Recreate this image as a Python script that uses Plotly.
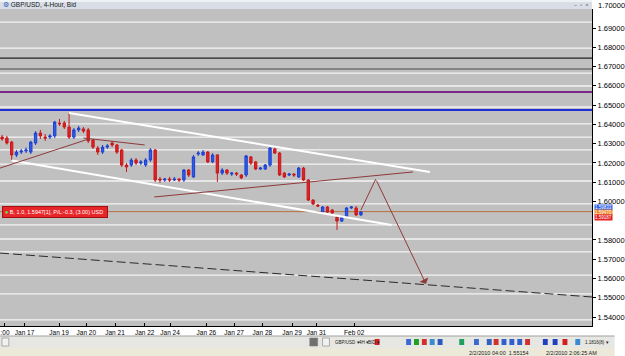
import plotly.graph_objects as go

# ---------------- data ----------------
bar_idx = list(range(-1, 75))
opens = [1.6334, 1.6329, 1.6308, 1.6241, 1.6256, 1.6262, 1.6256, 1.6303, 1.6355, 1.6334, 1.6334,
         1.6340, 1.6407, 1.6407, 1.6386, 1.6334, 1.6371, 1.6376, 1.6371, 1.6319, 1.6277,
         1.6256, 1.6282, 1.6303, 1.6293, 1.6267, 1.6189, 1.6189, 1.6215, 1.6199, 1.6189,
         1.6215, 1.6267, 1.6116, 1.6111, 1.6116, 1.6111, 1.6116, 1.6111, 1.6163, 1.6127,
         1.6246, 1.6241, 1.6256, 1.6205, 1.6241, 1.6147, 1.6163, 1.6142, 1.6147, 1.6137,
         1.6137, 1.6231, 1.6205, 1.6168, 1.6168, 1.6189, 1.6272, 1.6251, 1.6147, 1.6137,
         1.6142, 1.6127, 1.6173, 1.6111, 1.6007, 1.5981, 1.5945, 1.5971, 1.5955, 1.5919,
         1.5898, 1.5919, 1.5966, 1.5966, 1.5930]
closes = [1.6324, 1.6303, 1.6241, 1.6256, 1.6262, 1.6267, 1.6308, 1.6355, 1.6340, 1.6329, 1.6340,
          1.6412, 1.6402, 1.6386, 1.6334, 1.6371, 1.6381, 1.6365, 1.6314, 1.6282, 1.6256,
          1.6282, 1.6288, 1.6293, 1.6256, 1.6189, 1.6179, 1.6215, 1.6199, 1.6205, 1.6215,
          1.6267, 1.6111, 1.6111, 1.6116, 1.6111, 1.6116, 1.6111, 1.6163, 1.6137, 1.6231,
          1.6251, 1.6256, 1.6205, 1.6241, 1.6147, 1.6163, 1.6147, 1.6147, 1.6142, 1.6122,
          1.6236, 1.6199, 1.6168, 1.6173, 1.6189, 1.6277, 1.6251, 1.6137, 1.6127, 1.6142,
          1.6137, 1.6173, 1.6111, 1.6007, 1.5987, 1.5976, 1.5971, 1.5945, 1.5940, 1.5898,
          1.5919, 1.5966, 1.5971, 1.5930, 1.5945]
highs = [1.6345, 1.6340, 1.6314, 1.6267, 1.6272, 1.6280, 1.6314, 1.6365, 1.6371, 1.6350, 1.6350,
         1.6418, 1.6428, 1.6418, 1.6459, 1.6381, 1.6392, 1.6386, 1.6381, 1.6324, 1.6288,
         1.6293, 1.6298, 1.6314, 1.6298, 1.6272, 1.6199, 1.6225, 1.6225, 1.6215, 1.6225,
         1.6277, 1.6272, 1.6127, 1.6122, 1.6127, 1.6127, 1.6122, 1.6168, 1.6168, 1.6241,
         1.6262, 1.6267, 1.6262, 1.6251, 1.6246, 1.6173, 1.6168, 1.6153, 1.6153, 1.6142,
         1.6241, 1.6236, 1.6210, 1.6179, 1.6194, 1.6282, 1.6288, 1.6256, 1.6153, 1.6147,
         1.6147, 1.6179, 1.6179, 1.6116, 1.6012, 1.5987, 1.5976, 1.5976, 1.5961, 1.5925,
         1.5925, 1.5971, 1.5976, 1.5976, 1.5950]
lows = [1.6315, 1.6295, 1.6215, 1.6230, 1.6246, 1.6251, 1.6246, 1.6293, 1.6324, 1.6314, 1.6324,
        1.6329, 1.6392, 1.6376, 1.6324, 1.6324, 1.6360, 1.6355, 1.6303, 1.6272, 1.6241,
        1.6246, 1.6272, 1.6282, 1.6246, 1.6179, 1.6153, 1.6179, 1.6189, 1.6189, 1.6179,
        1.6205, 1.6101, 1.6096, 1.6101, 1.6101, 1.6106, 1.6101, 1.6101, 1.6127, 1.6122,
        1.6236, 1.6236, 1.6199, 1.6199, 1.6101, 1.6137, 1.6137, 1.6132, 1.6132, 1.6116,
        1.6127, 1.6189, 1.6163, 1.6163, 1.6163, 1.6179, 1.6246, 1.6132, 1.6122, 1.6132,
        1.6127, 1.6122, 1.6106, 1.6002, 1.5981, 1.5971, 1.5940, 1.5940, 1.5930, 1.5852,
        1.5893, 1.5914, 1.5961, 1.5925, 1.5925]

# x-axis date labels (bar index where each label sits)
date_tick_idx = [-0.4, 3.7, 10.9, 16.6, 22.6, 28.8, 34.1, 41.7, 47.5, 53.4, 59.6, 64.7, 72.6]
date_tick_text = [":00", "Jan 17", "Jan 19", "Jan 20", "Jan 21", "Jan 22", "Jan 24",
                  "Jan 26", "Jan 27", "Jan 28", "Jan 29", "Jan 31", "Feb 02"]

# price axis labels (1.59 is hidden behind the price boxes)
price_ticks = [1.54, 1.55, 1.56, 1.57, 1.58, 1.60, 1.61, 1.62, 1.63, 1.64,
               1.65, 1.66, 1.67, 1.68, 1.69]
top_price_label = "1.70000"

# horizontal levels drawn on the chart
white_levels = [1.6931, 1.6796, 1.6666, 1.6599, 1.6490, 1.6402, 1.6334, 1.6267, 1.6194,
                1.6106, 1.5987, 1.5878, 1.5805, 1.5738, 1.5618, 1.5520, 1.5385]
black_level = 1.6744
gray_level = 1.6687
purple_level = 1.6568
blue_level = 1.6474
order_price = 1.5947

# price-axis highlight boxes (label, price position)
ask_label, ask_pos = "1.59833", 1.5971
order_label, order_pos = "1.59470", 1.5943
bid_label, bid_pos = "1.59187", 1.5915

# trend lines (bar index, price)
upper_channel_x = [13, 88.4]
upper_channel_y = [1.6459, 1.6153]
lower_channel_x = [1, 80.4]
lower_channel_y = [1.6212, 1.5878]
brown_long_x = [30.8, 84.9]
brown_long_y = [1.6023, 1.6153]
brown_left_x = [-1.44, 17.1]
brown_left_y = [1.6173, 1.6324]
brown_short_x = [16.0, 28.8]
brown_short_y = [1.6329, 1.6293]
zig_x = [74, 77.1]
zig_y = [1.5955, 1.6116]
arrow_end = (87.6, 1.5572)
dash_x = [-1.44, 122.3]
dash_y = [1.5732, 1.5504]

# ---------------- figure ----------------
W, H = 625, 356
L, R, T, B = 0, 23, 9, 30
PW, PH = W - L - R, H - T - B
FONT = "Liberation Sans"


def px(x):
    return (x - L) / PW


def py(y):
    return (H - B - y) / PH


fig = go.Figure()

shapes = []
for lv in white_levels:
    shapes.append(dict(type="line", xref="paper", yref="y", x0=0, x1=1, y0=lv, y1=lv,
                       line=dict(color="#F4F4F4", width=1.3), layer="below"))
shapes.append(dict(type="line", xref="paper", yref="y", x0=0, x1=1, y0=black_level, y1=black_level,
                   line=dict(color="#202020", width=1.3), layer="below"))
shapes.append(dict(type="line", xref="paper", yref="y", x0=0, x1=1, y0=gray_level, y1=gray_level,
                   line=dict(color="#707070", width=1.6), layer="below"))
shapes.append(dict(type="line", xref="paper", yref="y", x0=0, x1=1, y0=purple_level, y1=purple_level,
                   line=dict(color="#7A2A86", width=2), layer="below"))
shapes.append(dict(type="line", xref="paper", yref="y", x0=0, x1=1, y0=blue_level, y1=blue_level,
                   line=dict(color="#1F2FD6", width=2), layer="below"))
shapes.append(dict(type="line", xref="paper", yref="y", x0=0, x1=1, y0=order_price, y1=order_price,
                   line=dict(color="#B8703E", width=1), layer="below"))

# window chrome: title bar
shapes.append(dict(type="rect", xref="paper", yref="paper", x0=px(0), x1=px(602), y0=py(9), y1=py(0),
                   fillcolor="#D9DEE6", line=dict(width=0)))
shapes.append(dict(type="rect", xref="paper", yref="paper", x0=px(0), x1=px(602), y0=py(2), y1=py(0),
                   fillcolor="#EEF1F6", line=dict(width=0)))
# bottom toolbar + status bar
shapes.append(dict(type="rect", xref="paper", yref="paper", x0=px(0), x1=px(625), y0=py(348), y1=py(336),
                   fillcolor="#E6E6E2", line=dict(width=0)))
shapes.append(dict(type="rect", xref="paper", yref="paper", x0=px(0), x1=px(625), y0=py(356), y1=py(348),
                   fillcolor="#ECE9D8", line=dict(width=0)))
shapes.append(dict(type="line", xref="paper", yref="paper", x0=px(0), x1=px(625), y0=py(336), y1=py(336),
                   line=dict(color="#A0A0A0", width=1)))
# scrollbar buttons
for x0, x1, col in [(2, 9, "#F2F2F2"), (315, 323, "#707070"), (328, 335, "#F2F2F2")]:
    shapes.append(dict(type="rect", xref="paper", yref="paper", x0=px(x0), x1=px(x1), y0=py(346),
                       y1=py(338), fillcolor=col, line=dict(color="#808080", width=0.6)))
# toolbar icons
icons = [(381, "#D02020"), (413, "#3A6AD0"), (421, "#20A020"), (429, "#D03030"), (437, "#3A8AD0"),
         (445, "#2A5AC0"), (467, "#20A060"), (482, "#3A6AD0"), (495, "#3060C0"), (502, "#D03030"),
         (510, "#3060D0"), (518, "#3060D0"), (526, "#3060D0"), (534, "#D03030"), (552, "#2040C0"),
         (562, "#2040C0"), (572, "#D02020"), (585, "#3A8AD0")]
for xi, col in icons:
    shapes.append(dict(type="rect", xref="paper", yref="paper", x0=px(xi), x1=px(xi + 5), y0=py(345),
                       y1=py(339), fillcolor=col, line=dict(width=0)))

fig.add_trace(go.Scatter(x=upper_channel_x, y=upper_channel_y, mode="lines",
                         line=dict(color="#FFFFFF", width=2), hoverinfo="skip"))
fig.add_trace(go.Scatter(x=lower_channel_x, y=lower_channel_y, mode="lines",
                         line=dict(color="#FFFFFF", width=2), hoverinfo="skip"))
for xs, ys in [(brown_long_x, brown_long_y), (brown_left_x, brown_left_y), (brown_short_x, brown_short_y),
               (zig_x, zig_y)]:
    fig.add_trace(go.Scatter(x=xs, y=ys, mode="lines", line=dict(color="#8E3A3A", width=1),
                             hoverinfo="skip"))
fig.add_trace(go.Scatter(x=dash_x, y=dash_y, mode="lines",
                         line=dict(color="#2A2A2A", width=1, dash="9px,4px"), hoverinfo="skip"))

fig.add_trace(go.Candlestick(
    x=bar_idx, open=opens, high=highs, low=lows, close=closes,
    increasing=dict(line=dict(color="#1C3FD0", width=1), fillcolor="#2F5FE8"),
    decreasing=dict(line=dict(color="#C81818", width=1), fillcolor="#E32228"),
    whiskerwidth=0, hoverinfo="skip"))

annotations = []
annotations.append(dict(x=arrow_end[0], y=arrow_end[1], ax=zig_x[1], ay=zig_y[1], xref="x", yref="y",
                        axref="x", ayref="y", showarrow=True, arrowhead=1, arrowsize=1.6,
                        arrowwidth=1, arrowcolor="#8E3A3A", text=""))
annotations.append(dict(xref="paper", yref="y", x=px(2), y=order_price, xanchor="left", yanchor="middle",
                        text="<span style='color:#40FF40'>●</span> B, 1.0, 1.5947[1], P/L:-0.3, (3.00) USD ",
                        showarrow=False, bgcolor="#E8262A", bordercolor="#A01010", borderwidth=1,
                        borderpad=2, font=dict(color="white", size=5.5, family=FONT)))
# price-axis highlight labels
for pr, txt, bg in [(ask_pos, ask_label, "#2F5FE8"), (order_pos, order_label, "#F08A30"),
                    (bid_pos, bid_label, "#E32228")]:
    annotations.append(dict(xref="paper", yref="y", x=px(604), y=pr, xanchor="left", yanchor="middle",
                            text=txt, showarrow=False, bgcolor=bg, borderpad=0,
                            font=dict(color="white", size=4.5, family=FONT)))
annotations.append(dict(xref="paper", yref="paper", x=px(606), y=py(5), xanchor="left", yanchor="middle",
                        text=top_price_label, showarrow=False,
                        font=dict(size=7.5, color="black", family=FONT)))
# title bar text
annotations.append(dict(xref="paper", yref="paper", x=px(1), y=py(4.5), xanchor="left", yanchor="middle",
                        text="<span style='color:#2A5AC0'>⚙</span> GBP/USD, 4-Hour, Bid", showarrow=False,
                        font=dict(size=6.5, color="#202020", family=FONT)))
annotations.append(dict(xref="paper", yref="paper", x=px(601), y=py(4.5), xanchor="right", yanchor="middle",
                        text="–  ▫  ×", showarrow=False, font=dict(size=6, color="#606060")))
# toolbar text
for xx, txt in [(339, "GBP/USD ▾"), (363, "4H ▾"), (372, "BID ▾"), (593, "1.1816(8) ▾")]:
    annotations.append(dict(xref="paper", yref="paper", x=px(xx), y=py(342.5), xanchor="left",
                            yanchor="middle", text=txt, showarrow=False,
                            font=dict(size=4.5, color="#202020", family=FONT)))
for xx, txt in [(475, "2/2/2010 04:00  1.55154"), (553, "2/2/2010 2:06:25 AM")]:
    annotations.append(dict(xref="paper", yref="paper", x=px(xx), y=py(352.5), xanchor="left",
                            yanchor="middle", text=txt, showarrow=False,
                            font=dict(size=5.5, color="#202020", family=FONT)))

fig.update_layout(
    width=W, height=H, margin=dict(l=L, r=R, t=T, b=B, pad=0),
    paper_bgcolor="white", plot_bgcolor="#C0C0C0", showlegend=False,
    shapes=shapes, annotations=annotations,
    xaxis=dict(range=[-1.439, 122.3], tickvals=date_tick_idx, ticktext=date_tick_text,
               showgrid=False, zeroline=False, ticks="inside", ticklen=3, tickcolor="black",
               showline=True, linecolor="black", linewidth=1, rangeslider=dict(visible=False),
               tickfont=dict(size=6.5, color="black", family=FONT), fixedrange=True),
    yaxis=dict(range=[1.53535, 1.69986], side="right", tickvals=price_ticks,
               tickformat=".5f", showgrid=False, zeroline=False, ticks="outside", ticklen=3,
               tickcolor="black", showline=True, linecolor="black", linewidth=1,
               tickfont=dict(size=7.5, color="black", family=FONT), fixedrange=True),
)

fig.write_html("out.html")
